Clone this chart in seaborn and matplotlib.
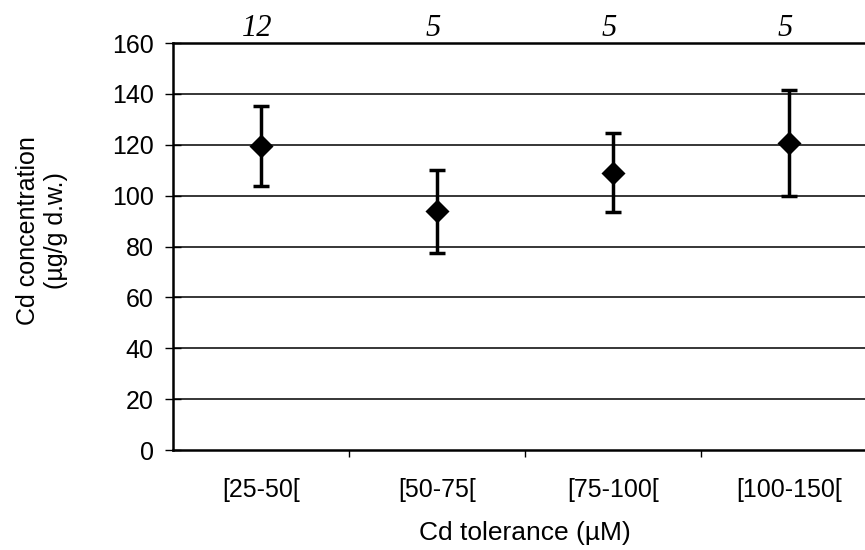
import matplotlib
matplotlib.use("Agg")
import matplotlib.pyplot as plt
import seaborn as sns
import pandas as pd
import numpy as np

categories = ["[25-50[", "[50-75[", "[75-100[", "[100-150["]
means = [119.5, 94.0, 109.0, 120.8]
upper = [135.2, 110.0, 124.5, 141.5]
lower = [103.8, 77.4, 93.5, 99.8]
counts = ["12", "5", "5", "5"]
yticks = [0, 20, 40, 60, 80, 100, 120, 140, 160]

sns.set_theme(style="white")
plt.rcParams["font.family"] = ["Liberation Sans", "DejaVu Sans"]
plt.rcParams["text.color"] = "black"
plt.rcParams["axes.labelcolor"] = "black"
plt.rcParams["xtick.color"] = "black"
plt.rcParams["ytick.color"] = "black"

df = pd.DataFrame({"cat": categories, "mean": means})
pos = np.arange(len(categories))

fig = plt.figure(figsize=(8.65, 5.5), dpi=100)
ax = fig.add_axes([0.2, 0.1818, 0.814, 0.74])

for y in yticks[1:]:
    ax.axhline(y, color="black", lw=1.1, zorder=1)

err_lo = np.array(means) - np.array(lower)
err_hi = np.array(upper) - np.array(means)
ax.errorbar(pos, means, yerr=[err_lo, err_hi], fmt="none", ecolor="black",
            elinewidth=2.5, capsize=6, capthick=2.5, zorder=3)
sns.scatterplot(data=df, x=pos, y="mean", marker="D", color="black", s=150,
                edgecolor="black", linewidth=0, ax=ax, zorder=4)

ax.set_xlim(-0.5, 3.5)
ax.set_ylim(0, 160)
ax.set_yticks(yticks)
ax.set_yticklabels([str(v) for v in yticks], fontsize=18)
ax.set_xticks(pos)
ax.set_xticklabels(categories, fontsize=18)
ax.set_xticks([0.5, 1.5, 2.5], minor=True)
ax.tick_params(axis="x", which="major", length=0, pad=20)
ax.tick_params(axis="x", which="minor", length=5, width=1, color="black", direction="out", bottom=True)
ax.tick_params(axis="y", which="major", length=12, width=1, color="black", direction="inout", left=True, pad=8)

for s in ["left", "bottom", "top", "right"]:
    ax.spines[s].set_color("black")
    ax.spines[s].set_linewidth(1.8)

ax.set_xlabel("Cd tolerance (µM)", fontsize=19, labelpad=14)
ax.set_ylabel("Cd concentration\n(µg/g d.w.)", fontsize=18)
ax.yaxis.set_label_coords(-0.149, 0.538)

for p, c in zip(pos, counts):
    ax.text(p - 0.02, 1.018, c, transform=ax.get_xaxis_transform(), ha="center", va="baseline",
            fontsize=22, style="italic", family=["Liberation Serif", "DejaVu Serif"])

fig.savefig("out.png", dpi=100)
